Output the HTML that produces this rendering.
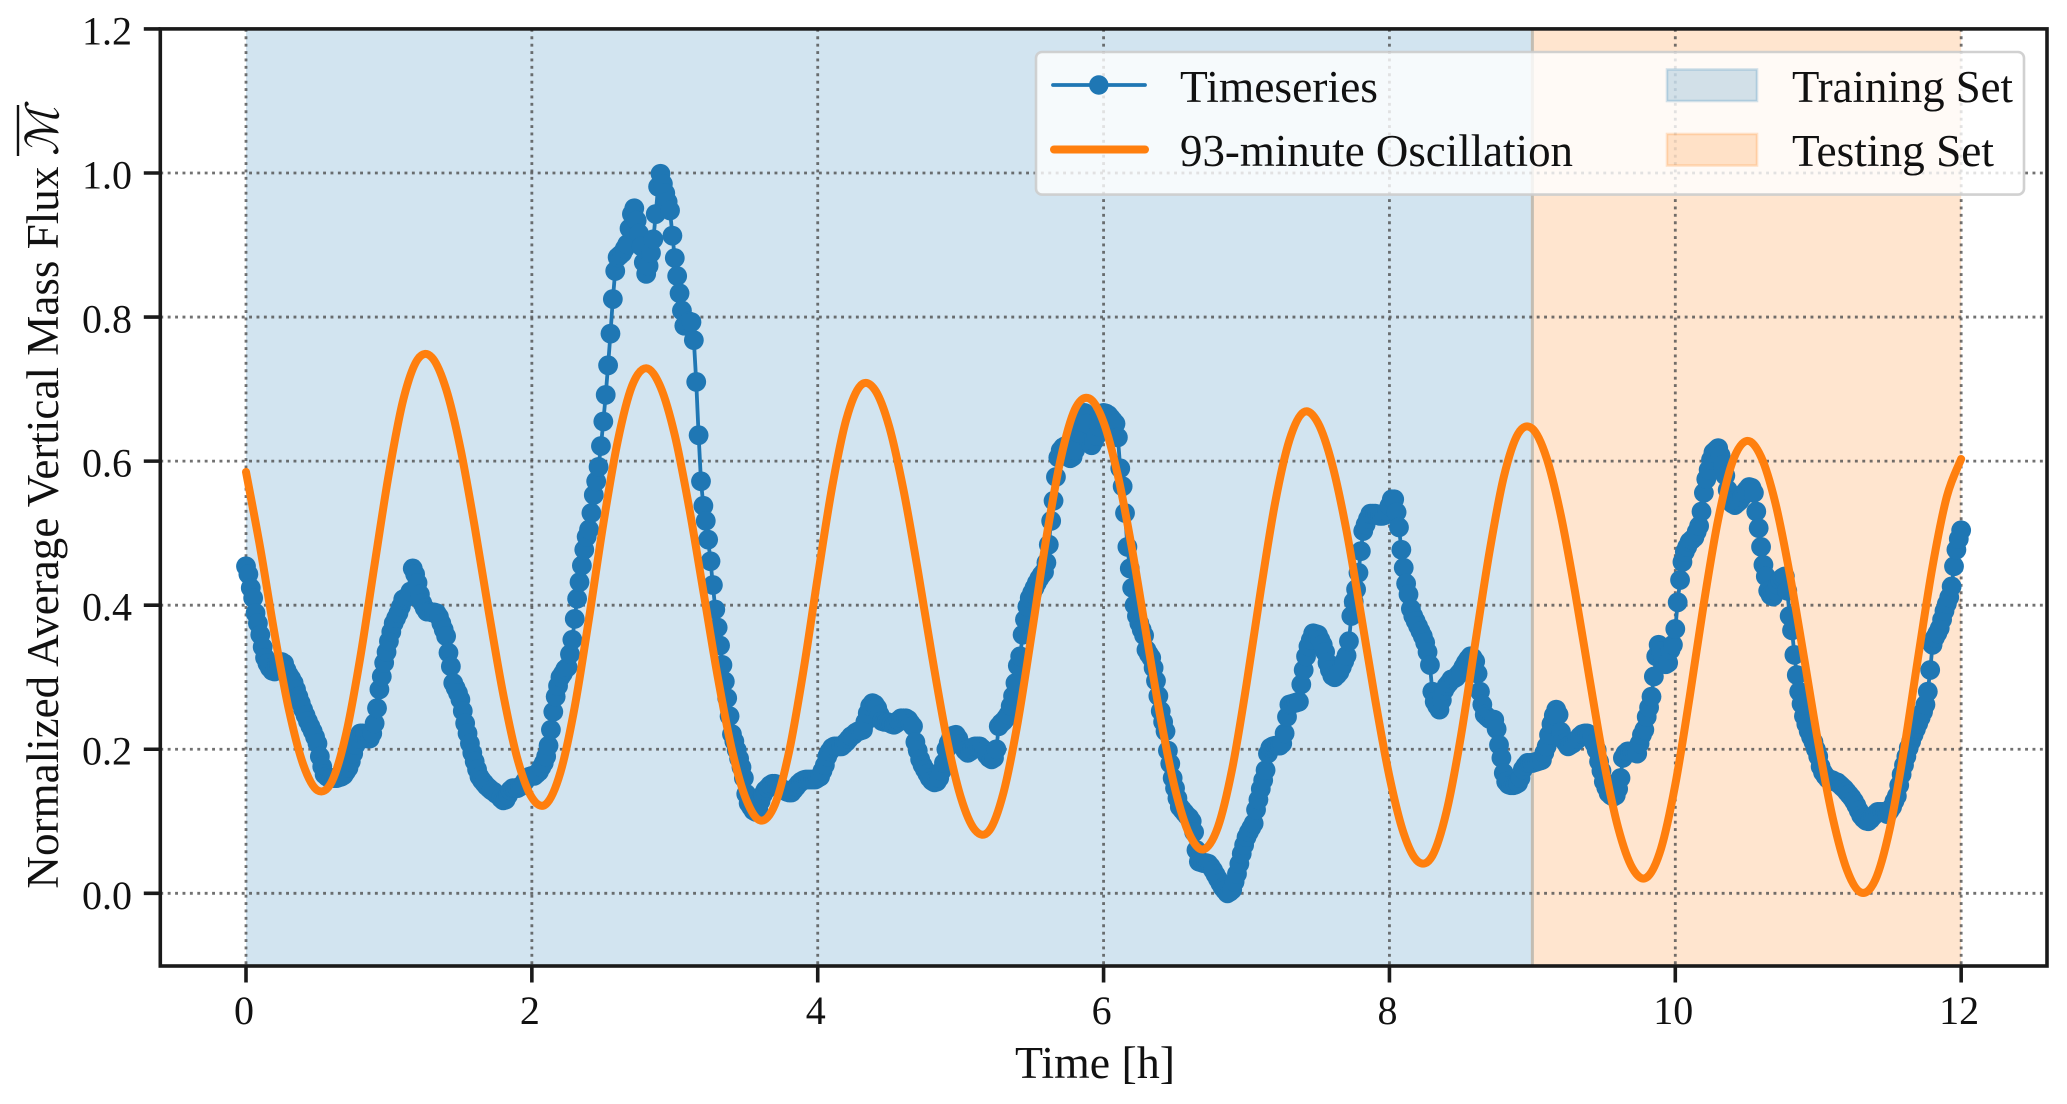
<!DOCTYPE html>
<html lang="en">
<head>
<meta charset="utf-8">
<title>Normalized Average Vertical Mass Flux</title>
<style>
html,body{margin:0;padding:0;background:#fff;width:2067px;height:1104px;overflow:hidden}
svg{display:block}
text{font-family:"Liberation Serif","DejaVu Serif",serif;fill:#111}
</style>
</head>
<body>
<svg id="chart" xmlns="http://www.w3.org/2000/svg" width="2067" height="1104" viewBox="0 0 2067 1104">
  <g id="spans"></g>
  <g id="grid"></g>
  <g id="series"></g>
  <g id="axes"></g>
  <text x="1095" y="1078" font-size="45" text-anchor="middle" textLength="160" lengthAdjust="spacingAndGlyphs">Time [h]</text>
  <text transform="translate(58,888.6) rotate(-90)" font-size="45" textLength="722" lengthAdjust="spacingAndGlyphs">Normalized Average Vertical Mass Flux</text>
  <text transform="translate(58,156) rotate(-90)" font-size="45" font-style="italic" textLength="49" lengthAdjust="spacingAndGlyphs">ℳ</text>
  <line x1="18" y1="105" x2="18" y2="156" stroke="#111" stroke-width="2.4"/>
  <g>
    <rect x="1036" y="52" width="988" height="142.6" rx="6" fill="#fff" fill-opacity="0.8" stroke="#ccc" stroke-opacity="0.9" stroke-width="2.6"/>
    <line x1="1053" y1="85" x2="1145" y2="85" stroke="#1f77b4" stroke-width="3.8" stroke-linecap="round"/>
    <circle cx="1098.8" cy="85" r="9.7" fill="#1f77b4"/>
    <line x1="1054" y1="149.5" x2="1145" y2="149.5" stroke="#ff7f0e" stroke-width="8" stroke-linecap="round"/>
    <text x="1180" y="102" font-size="45" textLength="198" lengthAdjust="spacingAndGlyphs">Timeseries</text>
    <text x="1180" y="166" font-size="45" textLength="393" lengthAdjust="spacingAndGlyphs">93-minute Oscillation</text>
    <rect x="1667" y="69.5" width="90" height="31.5" fill="#1f77b4" fill-opacity="0.2" stroke="#1f77b4" stroke-opacity="0.2" stroke-width="2.6"/>
    <rect x="1667" y="134" width="90" height="31.5" fill="#ff7f0e" fill-opacity="0.2" stroke="#ff7f0e" stroke-opacity="0.2" stroke-width="2.6"/>
    <text x="1792" y="102" font-size="45" textLength="221" lengthAdjust="spacingAndGlyphs">Training Set</text>
    <text x="1792" y="166" font-size="45" textLength="202" lengthAdjust="spacingAndGlyphs">Testing Set</text>
  </g>
</svg>
<script>
const xTickValues = [0, 2, 4, 6, 8, 10, 12];
const xTickLabels = ["0", "2", "4", "6", "8", "10", "12"];
const yTickValues = [0, 0.2, 0.4, 0.6, 0.8, 1.0, 1.2];
const yTickLabels = ["0.0", "0.2", "0.4", "0.6", "0.8", "1.0", "1.2"];
const trainingRange = [0, 9];
const testingRange = [9, 12];

// One reading per minute, starting at t = 0
const massFlux = [
.454,.443,.424,.410,.389,.375,.359,.342,.327,.319,
.313,.309,.308,.313,.317,.321,.319,.310,.303,.298,
.292,.283,.273,.264,.255,.247,.239,.232,.225,.217,
.208,.190,.176,.165,.162,.160,.160,.160,.160,.161,
.162,.164,.169,.174,.183,.194,.206,.215,.222,.222,
.220,.215,.215,.222,.236,.257,.283,.301,.320,.335,
.350,.363,.375,.382,.389,.398,.408,.410,.412,.419,
.451,.443,.431,.415,.403,.396,.391,.391,.390,.390,
.389,.384,.375,.366,.357,.334,.315,.292,.285,.278,
.269,.253,.236,.222,.208,.195,.183,.172,.162,.157,
.153,.149,.146,.143,.141,.138,.136,.132,.129,.130,
.136,.143,.146,.146,.146,.148,.150,.155,.160,.162,
.163,.163,.166,.169,.175,.181,.190,.205,.227,.252,
.273,.288,.300,.305,.311,.314,.332,.352,.381,.409,
.432,.455,.477,.495,.505,.528,.553,.572,.592,.621,
.655,.692,.733,.777,.825,.864,.883,.886,.889,.895,
.901,.923,.943,.951,.934,.916,.898,.876,.860,.871,
.889,.908,.943,.981,.999,.985,.972,.960,.948,.913,
.882,.857,.833,.809,.788,.791,.794,.793,.768,.710,
.636,.572,.538,.517,.491,.461,.428,.394,.369,.344,
.317,.294,.271,.246,.221,.211,.199,.187,.175,.160,
.138,.125,.120,.115,.113,.117,.128,.137,.143,.146,
.150,.152,.152,.150,.148,.145,.143,.141,.140,.140,
.144,.148,.152,.155,.157,.158,.158,.158,.158,.158,
.160,.162,.170,.178,.190,.197,.202,.204,.204,.204,
.204,.207,.210,.214,.218,.220,.223,.225,.226,.227,
.238,.250,.260,.264,.262,.257,.248,.239,.238,.238,
.237,.235,.234,.236,.240,.243,.243,.243,.241,.236,
.232,.210,.198,.186,.178,.172,.166,.160,.156,.154,
.155,.160,.170,.181,.200,.209,.216,.219,.220,.215,
.207,.203,.198,.195,.197,.200,.204,.204,.204,.201,
.198,.192,.188,.186,.188,.200,.232,.236,.239,.243,
.248,.260,.274,.292,.316,.329,.359,.380,.398,.410,
.417,.424,.431,.437,.442,.446,.459,.484,.517,.545,
.578,.605,.615,.619,.621,.612,.604,.606,.615,.640,
.655,.662,.667,.652,.626,.622,.628,.635,.648,.658,
.667,.666,.664,.660,.656,.652,.633,.590,.565,.528,
.481,.451,.424,.400,.385,.375,.366,.358,.338,.332,
.327,.313,.295,.274,.253,.238,.225,.198,.180,.160,
.146,.132,.120,.116,.112,.108,.105,.100,.085,.060,
.044,.043,.042,.042,.041,.037,.032,.026,.020,.014,
.008,.004,.000,.002,.005,.016,.027,.041,.055,.067,
.078,.085,.091,.097,.116,.130,.145,.157,.171,.194,
.202,.204,.205,.205,.205,.208,.222,.245,.262,.263,
.264,.265,.266,.290,.310,.329,.343,.352,.361,.360,
.359,.352,.345,.335,.320,.310,.302,.300,.303,.307,
.314,.322,.330,.350,.385,.405,.422,.445,.475,.503,
.512,.520,.527,.527,.527,.526,.524,.524,.525,.531,
.538,.547,.547,.529,.508,.477,.452,.430,.415,.395,
.385,.378,.371,.364,.357,.348,.335,.317,.280,.266,
.260,.255,.268,.282,.288,.292,.297,.298,.300,.304,
.308,.314,.320,.325,.329,.327,.322,.305,.280,.262,
.248,.245,.242,.241,.241,.228,.206,.188,.167,.155,
.151,.150,.150,.151,.153,.160,.172,.177,.181,.181,
.181,.182,.183,.184,.185,.195,.204,.220,.235,.247,
.255,.248,.224,.214,.209,.204,.206,.208,.211,.214,
.218,.221,.222,.222,.220,.218,.208,.199,.183,.170,
.155,.147,.139,.136,.134,.136,.145,.160,.188,.194,
.197,.197,.196,.195,.194,.208,.220,.227,.245,.258,
.273,.301,.329,.345,.336,.327,.318,.320,.338,.345,
.367,.404,.435,.460,.474,.481,.488,.491,.494,.502,
.510,.530,.556,.575,.588,.602,.612,.615,.618,.608,
.595,.580,.560,.544,.541,.539,.542,.545,.550,.556,
.560,.564,.563,.556,.530,.507,.481,.456,.440,.420,
.414,.412,.420,.428,.435,.438,.440,.420,.385,.365,
.331,.303,.280,.263,.246,.235,.225,.217,.210,.200,
.190,.176,.168,.163,.159,.158,.157,.155,.154,.151,
.148,.145,.141,.137,.133,.128,.122,.115,.108,.104,
.101,.100,.103,.107,.110,.113,.113,.113,.112,.110,
.115,.120,.128,.135,.150,.165,.178,.190,.202,.211,
.220,.228,.236,.244,.252,.262,.280,.310,.345,.355,
.361,.368,.380,.392,.402,.411,.426,.454,.477,.492,
.504
];

// One reading every 0.1 h, starting at t = 0
const oscillation = [
.585,.479,.360,.255,.179,.143,.155,.221,.328,.457,
.583,.685,.741,.744,.700,.618,.509,.389,.276,.186,
.133,.124,.168,.259,.382,.513,.627,.704,.729,.703,
.636,.536,.419,.301,.199,.130,.101,.123,.197,.309,
.439,.563,.658,.705,.699,.648,.560,.449,.329,.218,
.134,.088,.087,.140,.238,.364,.494,.603,.672,.687,
.654,.580,.477,.358,.242,.145,.082,.061,.092,.173,
.290,.421,.542,.629,.668,.653,.595,.503,.388,.269,
.162,.083,.044,.052,.114,.218,.347,.474,.578,.638,
.645,.604,.524,.417,.298,.183,.091,.035,.022,.062,
.151,.272,.403,.519,.599,.628,.606,.542,.444,.328,
.209,.106,.033,.001,.019,.089,.199,.329,.454,.551,
.603
];

const fluxStepHours = 1 / 60;
const oscillationStepHours = 0.1;
const NS = "http://www.w3.org/2000/svg";
const plotLeft = 160.3, plotRight = 2047, plotTop = 28.9, plotBottom = 966;
const xZero = 246, xPerHour = 142.93, yZero = 893.3, yPerUnit = 720.3;

function xScale(hours) { return xZero + xPerHour * hours; }
function yScale(value) { return yZero - yPerUnit * value; }
function make(tag, attrs, parent) {
  const el = document.createElementNS(NS, tag);
  for (const k in attrs) el.setAttribute(k, attrs[k]);
  parent.appendChild(el);
  return el;
}

const spans = document.getElementById("spans");
const trainRect = make("rect", {x: xScale(trainingRange[0]), y: plotTop, width: xScale(trainingRange[1]) - xScale(trainingRange[0]), height: plotBottom - plotTop, fill: "#1f77b4", "fill-opacity": 0.2}, spans);


const testRect = make("rect", {x: xScale(testingRange[0]), y: plotTop, width: xScale(testingRange[1]) - xScale(testingRange[0]), height: plotBottom - plotTop, fill: "#ff7f0e", "fill-opacity": 0.2}, spans);


const splitLine = make("line", {x1: xScale(testingRange[0]), x2: xScale(testingRange[0]), y1: plotTop, y2: plotBottom, stroke: "#c3bdb2", "stroke-width": 3}, spans);



const grid = document.getElementById("grid");
const axes = document.getElementById("axes");
xTickValues.forEach(function (v, i) {
  const x = xScale(v);
  const g = make("line", {x1: x, x2: x, y1: plotTop, y2: plotBottom, stroke: "#4d4d4d", "stroke-opacity": 0.8, "stroke-width": 2.8, "stroke-dasharray": "2.9 4.5"}, grid);
  
  
  const t = make("line", {x1: x, x2: x, y1: plotBottom, y2: plotBottom + 16.5, stroke: "#1a1a1a", "stroke-width": 3.6}, axes);
  
  
  const l = make("text", {x: x - 2, y: 1024, "font-size": 40, "text-anchor": "middle"}, axes);
  
  
  l.textContent = xTickLabels[i];
});
yTickValues.forEach(function (v, i) {
  const y = yScale(v);
  const g = make("line", {x1: plotLeft, x2: plotRight, y1: y, y2: y, stroke: "#4d4d4d", "stroke-opacity": 0.8, "stroke-width": 2.8, "stroke-dasharray": "2.9 4.5"}, grid);
  
  
  const t = make("line", {x1: plotLeft - 16.5, x2: plotLeft, y1: y, y2: y, stroke: "#1a1a1a", "stroke-width": 3.6}, axes);
  
  
  const l = make("text", {x: 132, y: y + 15.5, "font-size": 40, "text-anchor": "end"}, axes);
  
  
  l.textContent = yTickLabels[i];
});
const frame = make("rect", {x: plotLeft, y: plotTop, width: plotRight - plotLeft, height: plotBottom - plotTop, fill: "none", stroke: "#1a1a1a", "stroke-width": 3.6}, axes);



const series = document.getElementById("series");
const linePoints = massFlux.map(function (v, i) {
  return xScale(i * fluxStepHours).toFixed(2) + "," + yScale(v).toFixed(2);
}).join(" ");
const fluxLine = make("polyline", {points: linePoints, fill: "none", stroke: "#1f77b4", "stroke-width": 3.8, "stroke-linejoin": "round"}, series);


const markerGroup = make("g", {fill: "#1f77b4"}, series);


massFlux.forEach(function (v, i) {
  const dot = make("circle", {cx: xScale(i * fluxStepHours).toFixed(2), cy: yScale(v).toFixed(2), r: 9.9}, markerGroup);
  
  
});

function smoothPath(xs, ys) {
  let d = "M" + xs[0].toFixed(2) + " " + ys[0].toFixed(2);
  for (let i = 0; i < xs.length - 1; i++) {
    const a = Math.max(i - 1, 0), b = i + 1, c = Math.min(i + 2, xs.length - 1);
    const c1x = xs[i] + (xs[b] - xs[a]) / 6, c1y = ys[i] + (ys[b] - ys[a]) / 6;
    const c2x = xs[b] - (xs[c] - xs[i]) / 6, c2y = ys[b] - (ys[c] - ys[i]) / 6;
    d += "C" + c1x.toFixed(2) + " " + c1y.toFixed(2) + " " + c2x.toFixed(2) + " " + c2y.toFixed(2) + " " + xs[b].toFixed(2) + " " + ys[b].toFixed(2);
  }
  return d;
}
const oscX = oscillation.map(function (_, i) { return xScale(i * oscillationStepHours); });
const oscY = oscillation.map(function (v) { return yScale(v); });
const oscLine = make("path", {d: smoothPath(oscX, oscY), fill: "none", stroke: "#ff7f0e", "stroke-width": 8, "stroke-linecap": "round", "stroke-linejoin": "round"}, series);


</script>
</body>
</html>
